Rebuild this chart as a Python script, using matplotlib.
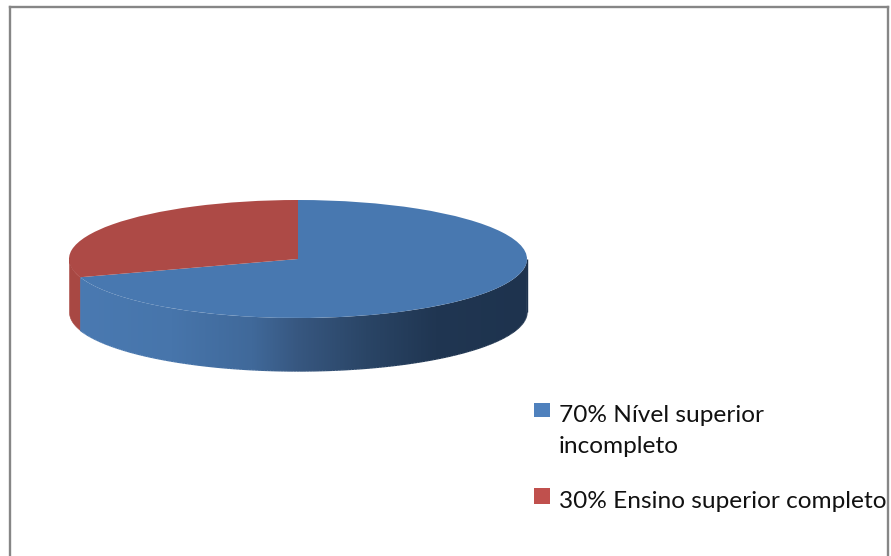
import numpy as np
import matplotlib
matplotlib.use("Agg")
import matplotlib.pyplot as plt
from matplotlib.patches import Rectangle, PathPatch
from matplotlib.lines import Line2D
from matplotlib.collections import LineCollection
from matplotlib.path import Path

W, H = 891, 556

# chart values
labels = ["70% Nível superior\nincompleto", "30% Ensino superior completo"]
values = [70, 30]
top_colors = ["#4878b0", "#ad4a46"]
legend_colors = ["#4f81bd", "#c0504d"]

# pie geometry in pixels
cx, cy = 298, 259
rx, ry = 229, 59
depth = 53

plt.rcParams['font.family'] = ['Lato', 'DejaVu Sans']
fig = plt.figure(figsize=(W / 100, H / 100), dpi=100, facecolor="white")
ax = fig.add_axes([0, 0, 1, 1])

# top of the disc, blue goes clockwise from 12 o'clock
ax.pie(values, colors=top_colors, startangle=90, counterclock=False, radius=1,
       wedgeprops={"linewidth": 0, "zorder": 5})

# side wall, only the front half of the disc shows
d = depth / ry
split = (90 - 360 * values[0] / sum(values)) % 360  # where blue ends


def side_color(x):
    # shading runs left to right along the wall
    xs = [-1.0, -0.55, -0.2, 0.0, 0.3, 0.6, 1.0]
    rs = [0x4a, 0x47, 0x40, 0x37, 0x2a, 0x20, 0x1e]
    gs = [0x7a, 0x75, 0x69, 0x57, 0x45, 0x36, 0x33]
    bs = [0xb2, 0xab, 0x9a, 0x80, 0x66, 0x52, 0x4e]
    return np.stack([np.interp(x, xs, rs), np.interp(x, xs, gs), np.interp(x, xs, bs)], axis=-1) / 255


# red piece of the wall
t = np.radians(np.linspace(180, split, 12))
ax.fill_between(np.cos(t), np.sin(t), np.sin(t) - d, color="#a84843", linewidth=0.4, zorder=2)

# blue piece, a gradient image clipped to the wall outline
t = np.radians(np.linspace(split, 360, 200))
x_wall, y_wall = np.cos(t), np.sin(t)
x0 = x_wall[0]
grad = side_color(np.linspace(x0, 1, 458))[None, :, :]
im = ax.imshow(grad, extent=(x0, 1, -1 - d, 0), aspect="auto", interpolation="bilinear", zorder=3)
outline = np.column_stack([np.r_[x_wall, x_wall[::-1]], np.r_[y_wall, y_wall[::-1] - d]])
clip = PathPatch(Path(outline), transform=ax.transData, facecolor="none", edgecolor="none")
ax.add_patch(clip)
im.set_clip_path(clip)

# soft lower edge, the clipped image alone comes out jagged
pts = np.column_stack([x_wall, y_wall - d])
segs = np.stack([pts[:-1], pts[1:]], axis=1)
ax.add_collection(LineCollection(segs, colors=side_color(pts[:-1, 0]), linewidths=1,
                                 capstyle="butt", zorder=4))
ax.plot([1, 1], [0, -d], color=side_color(1.0), linewidth=1, solid_capstyle="butt", zorder=4)

# one data unit = rx px across and ry px down
ax.set_aspect("auto")
ax.set_xlim(-cx / rx, (W - cx) / rx)
ax.set_ylim((cy - H) / ry, cy / ry)
ax.axis("off")


def fx(x):
    return x / W


def fy(y):
    return 1 - y / H


# chart frame, no line along the bottom
frame = [((10, 10), (556, 7)), ((10, 888), (7, 7)), ((888, 888), (7, 556))]
for xs, ys in frame:
    fig.add_artist(Line2D([fx(v) for v in xs], [fy(v) for v in ys], color="#868686", linewidth=1.7))

# legend
fig.add_artist(Rectangle((fx(534), fy(417)), 16 / W, 14 / H, facecolor=legend_colors[0],
                         edgecolor="none", transform=fig.transFigure))
fig.add_artist(Rectangle((fx(534), fy(504)), 16 / W, 16 / H, facecolor=legend_colors[1],
                         edgecolor="none", transform=fig.transFigure))
first, second = labels[0].split("\n")
fs = 17.6
fig.text(fx(559), fy(422), first, fontsize=fs, color="#111111", va="baseline")
fig.text(fx(559), fy(453), second, fontsize=fs, color="#111111", va="baseline")
fig.text(fx(559), fy(508), labels[1], fontsize=fs, color="#111111", va="baseline")

fig.savefig("out.png", dpi=100)
